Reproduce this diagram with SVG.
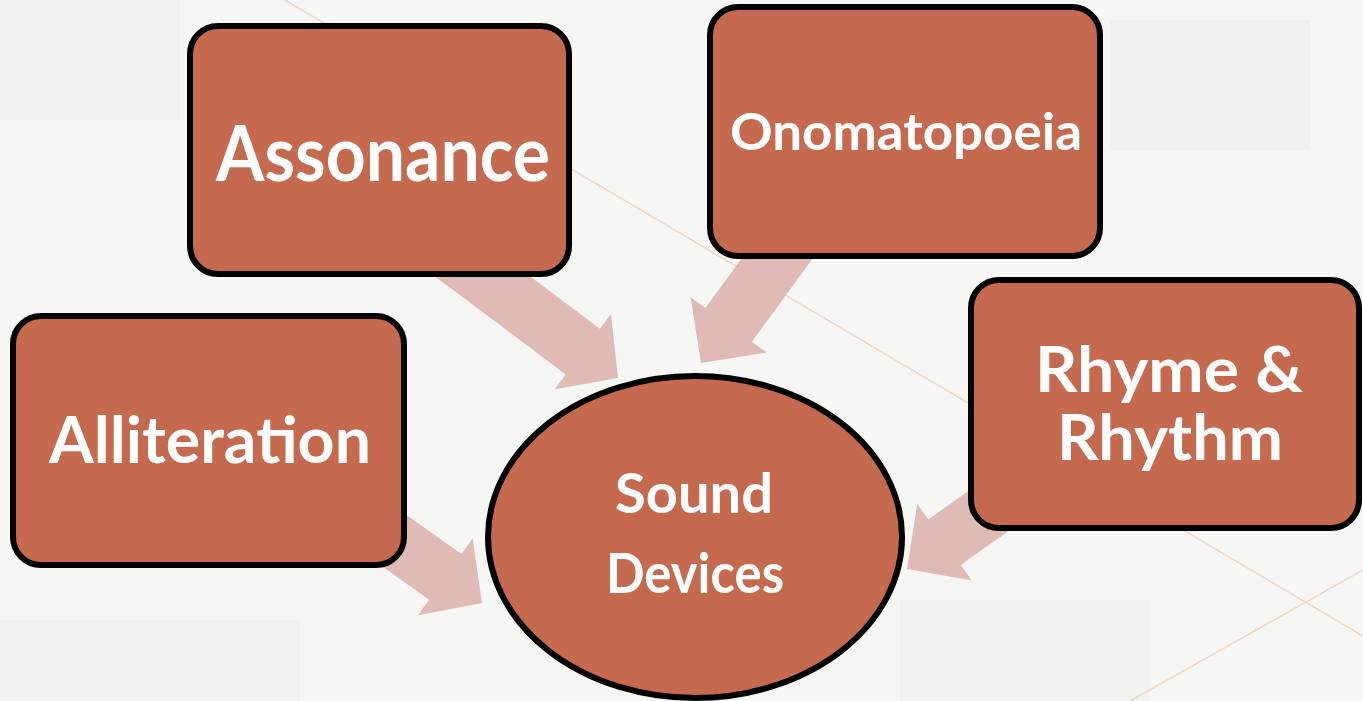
<svg xmlns="http://www.w3.org/2000/svg" width="1363" height="701" viewBox="0 0 1363 701">
<style>
.box{fill:#c5694f;stroke:#000;stroke-width:6}
.arr{fill:#e0bab4}
.lbl{font-family:"Lato","Open Sans","Liberation Sans",sans-serif;font-weight:bold;fill:#fff;text-anchor:middle}
.bgline{stroke:#efd9c4;stroke-width:1.5;fill:none}
</style>
<rect x="0" y="0" width="1363" height="701" fill="#f6f6f4"/>
<g id="background" opacity="0.35">
<rect x="0" y="0" width="180" height="120" fill="#eaeeeb"/>
<rect x="1110" y="20" width="200" height="130" fill="#e8ebe9"/>
<rect x="0" y="620" width="300" height="81" fill="#efebe6"/>
<rect x="900" y="600" width="250" height="101" fill="#eceeec"/>
</g>
<path class="bgline" d="M285 0 L1363 636"/>
<path class="bgline" d="M1130 701 L1363 570"/>
<g id="connectors">
<polygon class="arr" points="429.7,272.4 565.7,374.4 554.6,389.2 618,378 611,314 599.9,328.8 463.9,226.8"/>
<polygon class="arr" points="816.8,252.7 751.9,341.8 766.8,352.6 701,363 690.6,297.2 705.5,308 770.4,218.9"/>
<polygon class="arr" points="355.7,547.5 429.1,599.7 418,615.2 482,603 472.6,538.6 461.5,554.1 388.1,501.9"/>
<polygon class="arr" points="1034.1,512.9 960.7,565.1 971.8,580.6 907,569 917.2,504 928.3,519.5 1001.7,467.3"/>
</g>
<g id="assonance">
<rect class="box" x="190" y="26" width="379" height="248" rx="28"/>
<text class="lbl" x="383" y="181" font-size="76" textLength="334" lengthAdjust="spacingAndGlyphs">Assonance</text>
</g>
<g id="onomatopoeia">
<rect class="box" x="710" y="7" width="390" height="249" rx="28"/>
<text class="lbl" x="906" y="150" font-size="51" textLength="352" lengthAdjust="spacingAndGlyphs">Onomatopoeia</text>
</g>
<g id="alliteration">
<rect class="box" x="13" y="316" width="391" height="249" rx="28"/>
<text class="lbl" x="210" y="463" font-size="65" textLength="322" lengthAdjust="spacingAndGlyphs">Alliteration</text>
</g>
<g id="rhyme-rhythm">
<rect class="box" x="971" y="280" width="388" height="248" rx="28"/>
<text class="lbl" x="1169" y="392" font-size="63" textLength="268" lengthAdjust="spacingAndGlyphs">Rhyme &amp;</text>
<text class="lbl" x="1170" y="460" font-size="63" textLength="226" lengthAdjust="spacingAndGlyphs">Rhythm</text>
</g>
<g id="sound-devices">
<ellipse class="box" cx="695" cy="537" rx="207" ry="161"/>
<text class="lbl" x="694" y="513" font-size="56" textLength="158" lengthAdjust="spacingAndGlyphs">Sound</text>
<text class="lbl" x="695" y="593" font-size="56" textLength="178" lengthAdjust="spacingAndGlyphs">Devices</text>
</g>
</svg>
